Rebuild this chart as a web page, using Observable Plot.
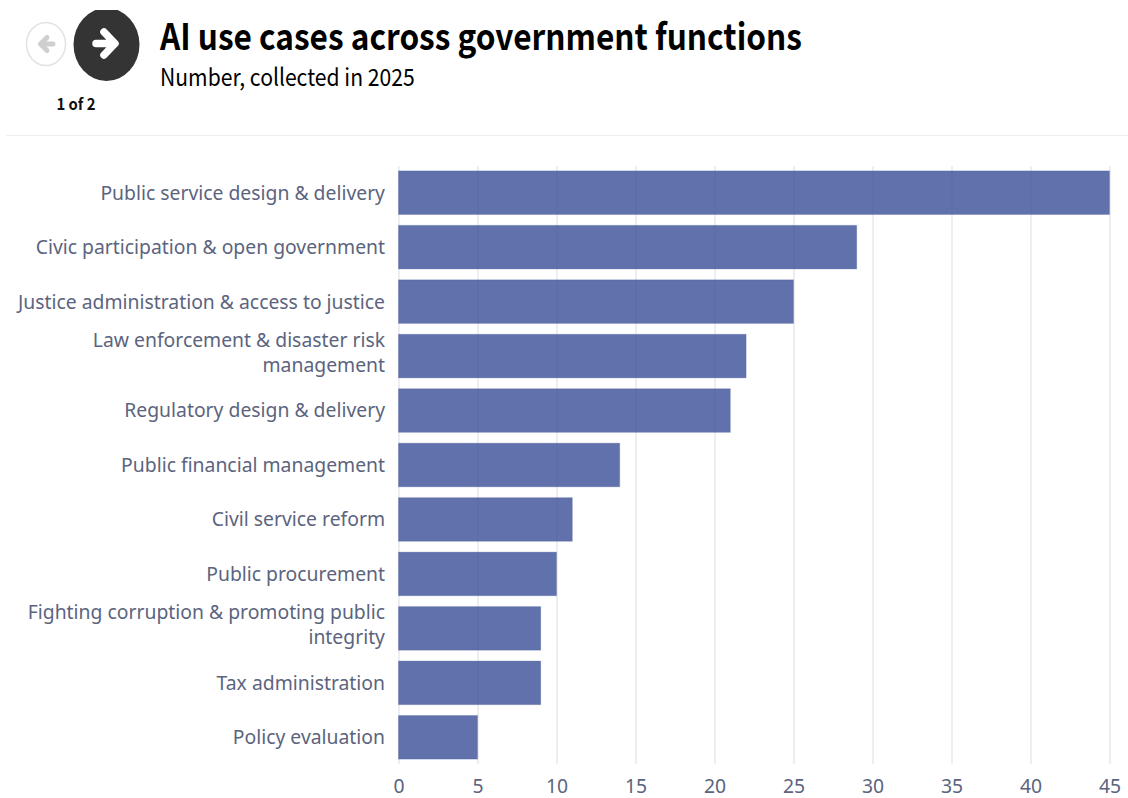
<!DOCTYPE html>
<html>
<head>
<meta charset="utf-8">
<script src="https://cdn.jsdelivr.net/npm/d3@7"></script>
<script src="https://cdn.jsdelivr.net/npm/@observablehq/plot@0.6"></script>
<style>
  html, body { margin: 0; padding: 0; background: #fff; overflow: hidden; }
  #page { position: relative; width: 1128px; height: 798px; }
  #header { position: relative; height: 150px; font-family: "Noto Sans CJK JP", "Noto Sans", sans-serif; overflow: hidden; }
  #header h1 { position: absolute; left: 160px; top: 9px; margin: 0; font-size: 36.5px; line-height: 52px; font-weight: 700; color: #000; white-space: nowrap; transform: scaleX(0.865); transform-origin: left center; }
  #header .sub { position: absolute; left: 160px; top: 58px; font-size: 24px; line-height: 36px; font-weight: 400; color: #000; white-space: nowrap; transform: scaleX(0.88); transform-origin: left center; }
  #header .count { position: absolute; left: 36px; width: 80px; text-align: center; top: 92px; font-size: 16px; line-height: 22px; font-weight: 700; color: #111; transform: scaleX(0.93); }
  #header .rule { position: absolute; left: 6px; right: 0; top: 135px; height: 1px; background: #efefef; }
  #header svg.nav { position: absolute; left: 0; top: 0; }
  #chart { display: block; }
</style>
</head>
<body>
<div id="page">
  <div id="header">
    <svg class="nav" width="150" height="90">
      <defs><clipPath id="navClip"><rect x="0" y="10" width="150" height="80"/></clipPath></defs>
      <ellipse cx="46" cy="44" rx="19.5" ry="21.5" fill="#fff" stroke="#e2e2e2" stroke-width="1.5"/>
      <path d="M53 44H42M47 37.5l-6.5 6.5 6.5 6.5" fill="none" stroke="#cfcfcf" stroke-width="5" stroke-linecap="round" stroke-linejoin="round"/>
      <ellipse cx="106.5" cy="44.5" rx="33" ry="36.5" fill="#343434" clip-path="url(#navClip)"/>
      <path d="M96 43.5H114M104 32l11 11.5-11 11.5" fill="none" stroke="#fff" stroke-width="7.5" stroke-linecap="round" stroke-linejoin="round"/>
    </svg>
    <div class="count">1 of 2</div>
    <h1>AI use cases across government functions</h1>
    <div class="sub">Number, collected in 2025</div>
    <div class="rule"></div>
  </div>
  <div id="chart"></div>
</div>
<script>
// Government functions, ordered by number of AI use cases
const functions = [
  "Public service design & delivery",
  "Civic participation & open government",
  "Justice administration & access to justice",
  "Law enforcement & disaster risk\nmanagement",
  "Regulatory design & delivery",
  "Public financial management",
  "Civil service reform",
  "Public procurement",
  "Fighting corruption & promoting public\nintegrity",
  "Tax administration",
  "Policy evaluation"
];
const useCases = [45, 29, 25, 22, 21, 14, 11, 10, 9, 9, 5];
const xTicks = [0, 5, 10, 15, 20, 25, 30, 35, 40, 45];

const rows = functions.map((name, i) => ({name, count: useCases[i]}));

// Shared settings for the category labels; wrapped ones sit a little higher
const categoryAxis = {
  anchor: "left",
  label: null,
  tickSize: 0,
  tickPadding: 14,
  fontSize: 19.35,
  lineHeight: 1.28,
  lineWidth: Infinity,
  color: "#5b647e"
};

const plot = Plot.plot({
  width: 1128,
  height: 648,
  marginLeft: 398.5,
  marginRight: 18.5,
  marginTop: 16,
  marginBottom: 34,
  style: {fontFamily: '"Noto Sans", sans-serif', background: "#fff"},
  x: {domain: [0, 45]},
  y: {domain: functions, paddingInner: 0.2, paddingOuter: 0.09, round: false},
  marks: [
    Plot.gridX(xTicks, {stroke: "#eeeef2", strokeOpacity: 1, strokeWidth: 2}),
    Plot.barX(rows, {
      x: "count",
      y: "name",
      fill: "#394e96",
      fillOpacity: 0.8,
      stroke: "#394e96",
      strokeOpacity: 0.25,
      strokeWidth: 1
    }),
    Plot.axisY(functions.filter((d) => !d.includes("\n")), {...categoryAxis, dy: -1.5}),
    Plot.axisY(functions.filter((d) => d.includes("\n")), {...categoryAxis, dy: -5}),
    Plot.axisX(xTicks, {
      anchor: "bottom",
      label: null,
      tickSize: 0,
      tickPadding: 14.5,
      fontSize: 19.35,
      color: "#5b647e"
    })
  ]
});
plot.style.display = "block";
document.getElementById("chart").appendChild(plot);
</script>
</body>
</html>
